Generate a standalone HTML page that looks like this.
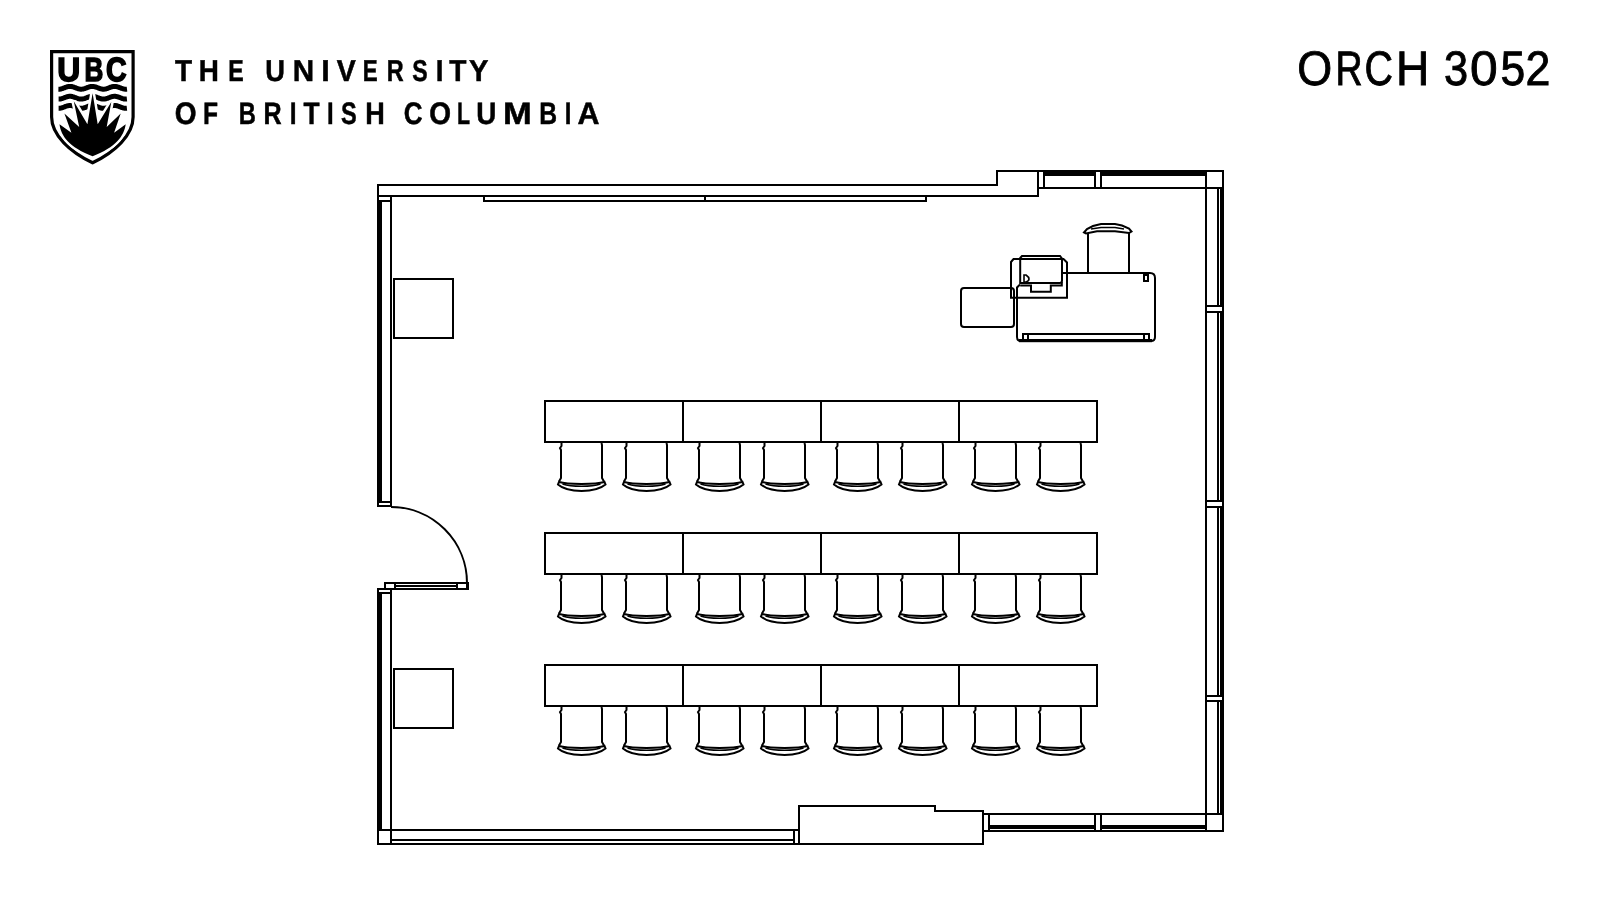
<!DOCTYPE html>
<html><head><meta charset="utf-8">
<style>
html,body{margin:0;padding:0;background:#fff;}
body{width:1600px;height:900px;position:relative;overflow:hidden;font-family:"Liberation Sans",sans-serif;}
#plan{position:absolute;left:0;top:0;}
</style></head><body>
<svg id="plan" width="1600" height="900" viewBox="0 0 1600 900" fill="#000" style="will-change:transform;font-family:'Liberation Sans',sans-serif" text-rendering="geometricPrecision">
<rect x="377" y="184" width="621" height="2"/>
<rect x="996" y="170" width="2" height="16"/>
<rect x="996" y="170" width="228" height="2"/>
<rect x="377" y="195" width="662" height="2"/>
<rect x="1037" y="170" width="2" height="27"/>
<rect x="483" y="195" width="2" height="7"/>
<rect x="483" y="200" width="444" height="2"/>
<rect x="925" y="195" width="2" height="7"/>
<rect x="704" y="195" width="2" height="7"/>
<rect x="1043" y="171" width="2" height="18"/>
<rect x="1043" y="170" width="163" height="6"/>
<rect x="1038" y="187" width="186" height="2"/>
<rect x="1096" y="172" width="4" height="15" fill="#fff"/>
<rect x="1094" y="170" width="2" height="19"/>
<rect x="1100" y="170" width="2" height="19"/>
<rect x="1205" y="170" width="2" height="662"/>
<rect x="1222" y="170" width="2" height="662"/>
<rect x="1217" y="189" width="2" height="624"/>
<rect x="1220" y="189" width="4" height="624"/>
<rect x="1207" y="305" width="15" height="8" fill="#fff"/>
<rect x="1205" y="305" width="17" height="2"/>
<rect x="1205" y="311" width="17" height="2"/>
<rect x="1207" y="500" width="15" height="8" fill="#fff"/>
<rect x="1205" y="500" width="17" height="2"/>
<rect x="1205" y="506" width="17" height="2"/>
<rect x="1207" y="695" width="15" height="7" fill="#fff"/>
<rect x="1205" y="695" width="17" height="2"/>
<rect x="1205" y="700" width="17" height="2"/>
<rect x="984" y="813" width="240" height="2"/>
<rect x="988" y="813" width="2" height="18"/>
<rect x="990" y="825" width="215" height="4"/>
<rect x="984" y="830" width="240" height="2"/>
<rect x="1096" y="815" width="4" height="15" fill="#fff"/>
<rect x="1094" y="813" width="2" height="18"/>
<rect x="1100" y="813" width="2" height="18"/>
<rect x="1207" y="815" width="15" height="15" fill="#fff"/>
<rect x="798" y="805" width="2" height="40"/>
<rect x="798" y="805" width="138" height="2"/>
<rect x="934" y="805" width="2" height="7"/>
<rect x="934" y="810" width="50" height="2"/>
<rect x="982" y="810" width="2" height="35"/>
<rect x="798" y="843" width="186" height="2"/>
<rect x="377" y="829" width="421" height="2"/>
<rect x="391" y="839" width="403" height="2"/>
<rect x="377" y="843" width="423" height="2"/>
<rect x="793" y="830" width="2" height="13"/>
<rect x="377" y="184" width="2" height="323"/>
<rect x="377" y="201" width="5" height="300"/>
<rect x="390" y="195" width="2" height="312"/>
<rect x="377" y="200" width="15" height="2"/>
<rect x="377" y="501" width="15" height="2"/>
<rect x="377" y="505" width="15" height="2"/>
<rect x="377" y="588" width="15" height="2"/>
<rect x="377" y="592" width="15" height="2"/>
<rect x="377" y="593" width="5" height="236"/>
<rect x="377" y="588" width="2" height="257"/>
<rect x="390" y="588" width="2" height="257"/>
<rect x="384" y="582" width="85" height="2"/>
<rect x="384" y="588" width="85" height="2"/>
<rect x="384" y="582" width="2" height="8"/>
<rect x="467" y="582" width="2" height="8"/>
<rect x="466" y="582" width="3" height="8"/>
<rect x="394" y="582" width="2" height="8"/>
<rect x="456" y="582" width="2" height="8"/>
<rect x="394" y="585" width="64" height="2"/>
<path d="M391,507 A76,76 0 0 1 467,583" fill="none" stroke="#000" stroke-width="2"/>
<rect x="393" y="278" width="61" height="2"/>
<rect x="393" y="337" width="61" height="2"/>
<rect x="393" y="278" width="2" height="61"/>
<rect x="452" y="278" width="2" height="61"/>
<rect x="393" y="668" width="61" height="2"/>
<rect x="393" y="727" width="61" height="2"/>
<rect x="393" y="668" width="2" height="61"/>
<rect x="452" y="668" width="2" height="61"/>
<rect x="544" y="400" width="554" height="2"/>
<rect x="544" y="441" width="554" height="2"/>
<rect x="544" y="400" width="2" height="43"/>
<rect x="1096" y="400" width="2" height="43"/>
<rect x="682" y="400" width="2" height="43"/>
<rect x="820" y="400" width="2" height="43"/>
<rect x="958" y="400" width="2" height="43"/>
<path d="M561.5,443 L561.5,446 L560.0,448 L561.0,450 L561.0,478 L559.0,481.5" fill="none" stroke="#000" stroke-width="2"/>
<path d="M601.5,443 L602.0,445 L602.0,478 L604.0,481.5" fill="none" stroke="#000" stroke-width="2"/>
<path d="M559.0,482 C567.5,484.5 595.5,484.5 604.5,482 L605.5,484.5 C595.5,493 567.5,493 558.0,484.5 Z" fill="none" stroke="#000" stroke-width="2"/>
<path d="M562.5,484 C571.5,487 591.5,487 600.5,484" fill="none" stroke="#000" stroke-width="1.6"/>
<path d="M626.5,443 L626.5,446 L625.0,448 L626.0,450 L626.0,478 L624.0,481.5" fill="none" stroke="#000" stroke-width="2"/>
<path d="M666.5,443 L667.0,445 L667.0,478 L669.0,481.5" fill="none" stroke="#000" stroke-width="2"/>
<path d="M624.0,482 C632.5,484.5 660.5,484.5 669.5,482 L670.5,484.5 C660.5,493 632.5,493 623.0,484.5 Z" fill="none" stroke="#000" stroke-width="2"/>
<path d="M627.5,484 C636.5,487 656.5,487 665.5,484" fill="none" stroke="#000" stroke-width="1.6"/>
<path d="M699.5,443 L699.5,446 L698.0,448 L699.0,450 L699.0,478 L697.0,481.5" fill="none" stroke="#000" stroke-width="2"/>
<path d="M739.5,443 L740.0,445 L740.0,478 L742.0,481.5" fill="none" stroke="#000" stroke-width="2"/>
<path d="M697.0,482 C705.5,484.5 733.5,484.5 742.5,482 L743.5,484.5 C733.5,493 705.5,493 696.0,484.5 Z" fill="none" stroke="#000" stroke-width="2"/>
<path d="M700.5,484 C709.5,487 729.5,487 738.5,484" fill="none" stroke="#000" stroke-width="1.6"/>
<path d="M764.5,443 L764.5,446 L763.0,448 L764.0,450 L764.0,478 L762.0,481.5" fill="none" stroke="#000" stroke-width="2"/>
<path d="M804.5,443 L805.0,445 L805.0,478 L807.0,481.5" fill="none" stroke="#000" stroke-width="2"/>
<path d="M762.0,482 C770.5,484.5 798.5,484.5 807.5,482 L808.5,484.5 C798.5,493 770.5,493 761.0,484.5 Z" fill="none" stroke="#000" stroke-width="2"/>
<path d="M765.5,484 C774.5,487 794.5,487 803.5,484" fill="none" stroke="#000" stroke-width="1.6"/>
<path d="M837.5,443 L837.5,446 L836.0,448 L837.0,450 L837.0,478 L835.0,481.5" fill="none" stroke="#000" stroke-width="2"/>
<path d="M877.5,443 L878.0,445 L878.0,478 L880.0,481.5" fill="none" stroke="#000" stroke-width="2"/>
<path d="M835.0,482 C843.5,484.5 871.5,484.5 880.5,482 L881.5,484.5 C871.5,493 843.5,493 834.0,484.5 Z" fill="none" stroke="#000" stroke-width="2"/>
<path d="M838.5,484 C847.5,487 867.5,487 876.5,484" fill="none" stroke="#000" stroke-width="1.6"/>
<path d="M902.5,443 L902.5,446 L901.0,448 L902.0,450 L902.0,478 L900.0,481.5" fill="none" stroke="#000" stroke-width="2"/>
<path d="M942.5,443 L943.0,445 L943.0,478 L945.0,481.5" fill="none" stroke="#000" stroke-width="2"/>
<path d="M900.0,482 C908.5,484.5 936.5,484.5 945.5,482 L946.5,484.5 C936.5,493 908.5,493 899.0,484.5 Z" fill="none" stroke="#000" stroke-width="2"/>
<path d="M903.5,484 C912.5,487 932.5,487 941.5,484" fill="none" stroke="#000" stroke-width="1.6"/>
<path d="M975.5,443 L975.5,446 L974.0,448 L975.0,450 L975.0,478 L973.0,481.5" fill="none" stroke="#000" stroke-width="2"/>
<path d="M1015.5,443 L1016.0,445 L1016.0,478 L1018.0,481.5" fill="none" stroke="#000" stroke-width="2"/>
<path d="M973.0,482 C981.5,484.5 1009.5,484.5 1018.5,482 L1019.5,484.5 C1009.5,493 981.5,493 972.0,484.5 Z" fill="none" stroke="#000" stroke-width="2"/>
<path d="M976.5,484 C985.5,487 1005.5,487 1014.5,484" fill="none" stroke="#000" stroke-width="1.6"/>
<path d="M1040.5,443 L1040.5,446 L1039.0,448 L1040.0,450 L1040.0,478 L1038.0,481.5" fill="none" stroke="#000" stroke-width="2"/>
<path d="M1080.5,443 L1081.0,445 L1081.0,478 L1083.0,481.5" fill="none" stroke="#000" stroke-width="2"/>
<path d="M1038.0,482 C1046.5,484.5 1074.5,484.5 1083.5,482 L1084.5,484.5 C1074.5,493 1046.5,493 1037.0,484.5 Z" fill="none" stroke="#000" stroke-width="2"/>
<path d="M1041.5,484 C1050.5,487 1070.5,487 1079.5,484" fill="none" stroke="#000" stroke-width="1.6"/>
<rect x="544" y="532" width="554" height="2"/>
<rect x="544" y="573" width="554" height="2"/>
<rect x="544" y="532" width="2" height="43"/>
<rect x="1096" y="532" width="2" height="43"/>
<rect x="682" y="532" width="2" height="43"/>
<rect x="820" y="532" width="2" height="43"/>
<rect x="958" y="532" width="2" height="43"/>
<path d="M561.5,575 L561.5,578 L560.0,580 L561.0,582 L561.0,610 L559.0,613.5" fill="none" stroke="#000" stroke-width="2"/>
<path d="M601.5,575 L602.0,577 L602.0,610 L604.0,613.5" fill="none" stroke="#000" stroke-width="2"/>
<path d="M559.0,614 C567.5,616.5 595.5,616.5 604.5,614 L605.5,616.5 C595.5,625 567.5,625 558.0,616.5 Z" fill="none" stroke="#000" stroke-width="2"/>
<path d="M562.5,616 C571.5,619 591.5,619 600.5,616" fill="none" stroke="#000" stroke-width="1.6"/>
<path d="M626.5,575 L626.5,578 L625.0,580 L626.0,582 L626.0,610 L624.0,613.5" fill="none" stroke="#000" stroke-width="2"/>
<path d="M666.5,575 L667.0,577 L667.0,610 L669.0,613.5" fill="none" stroke="#000" stroke-width="2"/>
<path d="M624.0,614 C632.5,616.5 660.5,616.5 669.5,614 L670.5,616.5 C660.5,625 632.5,625 623.0,616.5 Z" fill="none" stroke="#000" stroke-width="2"/>
<path d="M627.5,616 C636.5,619 656.5,619 665.5,616" fill="none" stroke="#000" stroke-width="1.6"/>
<path d="M699.5,575 L699.5,578 L698.0,580 L699.0,582 L699.0,610 L697.0,613.5" fill="none" stroke="#000" stroke-width="2"/>
<path d="M739.5,575 L740.0,577 L740.0,610 L742.0,613.5" fill="none" stroke="#000" stroke-width="2"/>
<path d="M697.0,614 C705.5,616.5 733.5,616.5 742.5,614 L743.5,616.5 C733.5,625 705.5,625 696.0,616.5 Z" fill="none" stroke="#000" stroke-width="2"/>
<path d="M700.5,616 C709.5,619 729.5,619 738.5,616" fill="none" stroke="#000" stroke-width="1.6"/>
<path d="M764.5,575 L764.5,578 L763.0,580 L764.0,582 L764.0,610 L762.0,613.5" fill="none" stroke="#000" stroke-width="2"/>
<path d="M804.5,575 L805.0,577 L805.0,610 L807.0,613.5" fill="none" stroke="#000" stroke-width="2"/>
<path d="M762.0,614 C770.5,616.5 798.5,616.5 807.5,614 L808.5,616.5 C798.5,625 770.5,625 761.0,616.5 Z" fill="none" stroke="#000" stroke-width="2"/>
<path d="M765.5,616 C774.5,619 794.5,619 803.5,616" fill="none" stroke="#000" stroke-width="1.6"/>
<path d="M837.5,575 L837.5,578 L836.0,580 L837.0,582 L837.0,610 L835.0,613.5" fill="none" stroke="#000" stroke-width="2"/>
<path d="M877.5,575 L878.0,577 L878.0,610 L880.0,613.5" fill="none" stroke="#000" stroke-width="2"/>
<path d="M835.0,614 C843.5,616.5 871.5,616.5 880.5,614 L881.5,616.5 C871.5,625 843.5,625 834.0,616.5 Z" fill="none" stroke="#000" stroke-width="2"/>
<path d="M838.5,616 C847.5,619 867.5,619 876.5,616" fill="none" stroke="#000" stroke-width="1.6"/>
<path d="M902.5,575 L902.5,578 L901.0,580 L902.0,582 L902.0,610 L900.0,613.5" fill="none" stroke="#000" stroke-width="2"/>
<path d="M942.5,575 L943.0,577 L943.0,610 L945.0,613.5" fill="none" stroke="#000" stroke-width="2"/>
<path d="M900.0,614 C908.5,616.5 936.5,616.5 945.5,614 L946.5,616.5 C936.5,625 908.5,625 899.0,616.5 Z" fill="none" stroke="#000" stroke-width="2"/>
<path d="M903.5,616 C912.5,619 932.5,619 941.5,616" fill="none" stroke="#000" stroke-width="1.6"/>
<path d="M975.5,575 L975.5,578 L974.0,580 L975.0,582 L975.0,610 L973.0,613.5" fill="none" stroke="#000" stroke-width="2"/>
<path d="M1015.5,575 L1016.0,577 L1016.0,610 L1018.0,613.5" fill="none" stroke="#000" stroke-width="2"/>
<path d="M973.0,614 C981.5,616.5 1009.5,616.5 1018.5,614 L1019.5,616.5 C1009.5,625 981.5,625 972.0,616.5 Z" fill="none" stroke="#000" stroke-width="2"/>
<path d="M976.5,616 C985.5,619 1005.5,619 1014.5,616" fill="none" stroke="#000" stroke-width="1.6"/>
<path d="M1040.5,575 L1040.5,578 L1039.0,580 L1040.0,582 L1040.0,610 L1038.0,613.5" fill="none" stroke="#000" stroke-width="2"/>
<path d="M1080.5,575 L1081.0,577 L1081.0,610 L1083.0,613.5" fill="none" stroke="#000" stroke-width="2"/>
<path d="M1038.0,614 C1046.5,616.5 1074.5,616.5 1083.5,614 L1084.5,616.5 C1074.5,625 1046.5,625 1037.0,616.5 Z" fill="none" stroke="#000" stroke-width="2"/>
<path d="M1041.5,616 C1050.5,619 1070.5,619 1079.5,616" fill="none" stroke="#000" stroke-width="1.6"/>
<rect x="544" y="664" width="554" height="2"/>
<rect x="544" y="705" width="554" height="2"/>
<rect x="544" y="664" width="2" height="43"/>
<rect x="1096" y="664" width="2" height="43"/>
<rect x="682" y="664" width="2" height="43"/>
<rect x="820" y="664" width="2" height="43"/>
<rect x="958" y="664" width="2" height="43"/>
<path d="M561.5,707 L561.5,710 L560.0,712 L561.0,714 L561.0,742 L559.0,745.5" fill="none" stroke="#000" stroke-width="2"/>
<path d="M601.5,707 L602.0,709 L602.0,742 L604.0,745.5" fill="none" stroke="#000" stroke-width="2"/>
<path d="M559.0,746 C567.5,748.5 595.5,748.5 604.5,746 L605.5,748.5 C595.5,757 567.5,757 558.0,748.5 Z" fill="none" stroke="#000" stroke-width="2"/>
<path d="M562.5,748 C571.5,751 591.5,751 600.5,748" fill="none" stroke="#000" stroke-width="1.6"/>
<path d="M626.5,707 L626.5,710 L625.0,712 L626.0,714 L626.0,742 L624.0,745.5" fill="none" stroke="#000" stroke-width="2"/>
<path d="M666.5,707 L667.0,709 L667.0,742 L669.0,745.5" fill="none" stroke="#000" stroke-width="2"/>
<path d="M624.0,746 C632.5,748.5 660.5,748.5 669.5,746 L670.5,748.5 C660.5,757 632.5,757 623.0,748.5 Z" fill="none" stroke="#000" stroke-width="2"/>
<path d="M627.5,748 C636.5,751 656.5,751 665.5,748" fill="none" stroke="#000" stroke-width="1.6"/>
<path d="M699.5,707 L699.5,710 L698.0,712 L699.0,714 L699.0,742 L697.0,745.5" fill="none" stroke="#000" stroke-width="2"/>
<path d="M739.5,707 L740.0,709 L740.0,742 L742.0,745.5" fill="none" stroke="#000" stroke-width="2"/>
<path d="M697.0,746 C705.5,748.5 733.5,748.5 742.5,746 L743.5,748.5 C733.5,757 705.5,757 696.0,748.5 Z" fill="none" stroke="#000" stroke-width="2"/>
<path d="M700.5,748 C709.5,751 729.5,751 738.5,748" fill="none" stroke="#000" stroke-width="1.6"/>
<path d="M764.5,707 L764.5,710 L763.0,712 L764.0,714 L764.0,742 L762.0,745.5" fill="none" stroke="#000" stroke-width="2"/>
<path d="M804.5,707 L805.0,709 L805.0,742 L807.0,745.5" fill="none" stroke="#000" stroke-width="2"/>
<path d="M762.0,746 C770.5,748.5 798.5,748.5 807.5,746 L808.5,748.5 C798.5,757 770.5,757 761.0,748.5 Z" fill="none" stroke="#000" stroke-width="2"/>
<path d="M765.5,748 C774.5,751 794.5,751 803.5,748" fill="none" stroke="#000" stroke-width="1.6"/>
<path d="M837.5,707 L837.5,710 L836.0,712 L837.0,714 L837.0,742 L835.0,745.5" fill="none" stroke="#000" stroke-width="2"/>
<path d="M877.5,707 L878.0,709 L878.0,742 L880.0,745.5" fill="none" stroke="#000" stroke-width="2"/>
<path d="M835.0,746 C843.5,748.5 871.5,748.5 880.5,746 L881.5,748.5 C871.5,757 843.5,757 834.0,748.5 Z" fill="none" stroke="#000" stroke-width="2"/>
<path d="M838.5,748 C847.5,751 867.5,751 876.5,748" fill="none" stroke="#000" stroke-width="1.6"/>
<path d="M902.5,707 L902.5,710 L901.0,712 L902.0,714 L902.0,742 L900.0,745.5" fill="none" stroke="#000" stroke-width="2"/>
<path d="M942.5,707 L943.0,709 L943.0,742 L945.0,745.5" fill="none" stroke="#000" stroke-width="2"/>
<path d="M900.0,746 C908.5,748.5 936.5,748.5 945.5,746 L946.5,748.5 C936.5,757 908.5,757 899.0,748.5 Z" fill="none" stroke="#000" stroke-width="2"/>
<path d="M903.5,748 C912.5,751 932.5,751 941.5,748" fill="none" stroke="#000" stroke-width="1.6"/>
<path d="M975.5,707 L975.5,710 L974.0,712 L975.0,714 L975.0,742 L973.0,745.5" fill="none" stroke="#000" stroke-width="2"/>
<path d="M1015.5,707 L1016.0,709 L1016.0,742 L1018.0,745.5" fill="none" stroke="#000" stroke-width="2"/>
<path d="M973.0,746 C981.5,748.5 1009.5,748.5 1018.5,746 L1019.5,748.5 C1009.5,757 981.5,757 972.0,748.5 Z" fill="none" stroke="#000" stroke-width="2"/>
<path d="M976.5,748 C985.5,751 1005.5,751 1014.5,748" fill="none" stroke="#000" stroke-width="1.6"/>
<path d="M1040.5,707 L1040.5,710 L1039.0,712 L1040.0,714 L1040.0,742 L1038.0,745.5" fill="none" stroke="#000" stroke-width="2"/>
<path d="M1080.5,707 L1081.0,709 L1081.0,742 L1083.0,745.5" fill="none" stroke="#000" stroke-width="2"/>
<path d="M1038.0,746 C1046.5,748.5 1074.5,748.5 1083.5,746 L1084.5,748.5 C1074.5,757 1046.5,757 1037.0,748.5 Z" fill="none" stroke="#000" stroke-width="2"/>
<path d="M1041.5,748 C1050.5,751 1070.5,751 1079.5,748" fill="none" stroke="#000" stroke-width="1.6"/>
<rect x="961" y="288" width="53" height="39" rx="3" fill="none" stroke="#000" stroke-width="2"/>
<path d="M1063,273 L1150,273 Q1155,273 1155,278 L1155,337 Q1155,341 1151,341 L1021,341 Q1017,341 1017,337 L1017,287.5 L1020,284.5" fill="none" stroke="#000" stroke-width="2"/>
<rect x="1019" y="339" width="133" height="3.2"/>
<rect x="1022" y="333" width="128" height="2"/>
<rect x="1022" y="333" width="7" height="2"/>
<rect x="1022" y="339" width="7" height="2"/>
<rect x="1022" y="333" width="2" height="8"/>
<rect x="1027" y="333" width="2" height="8"/>
<rect x="1143" y="333" width="7" height="2"/>
<rect x="1143" y="339" width="7" height="2"/>
<rect x="1143" y="333" width="2" height="8"/>
<rect x="1148" y="333" width="2" height="8"/>
<path d="M1024,275 L1026,275 Q1029,277 1029,279 Q1029,281 1026,282 L1024,282 Z" fill="none" stroke="#000" stroke-width="1.6"/>
<rect x="1143" y="274" width="6" height="2"/>
<rect x="1143" y="280" width="6" height="2"/>
<rect x="1143" y="274" width="2" height="8"/>
<rect x="1147" y="274" width="2" height="8"/>
<path d="M1011,262 L1013.5,259 L1063.5,259 L1067,262.5 L1067,297.7 L1011,297.7 Z" fill="none" stroke="#000" stroke-width="2"/>
<path d="M1020.2,283 L1020.2,258 L1022,256 L1060,256 L1062,258.5 L1062,280.5 Q1062,283 1059.5,283 Z" fill="none" stroke="#000" stroke-width="2"/>
<path d="M1020.2,285.6 L1031,285.6 L1031,291.7 L1050.8,291.7 L1050.8,285.6 L1061.8,285.6 L1061.8,282" fill="none" stroke="#000" stroke-width="2"/>
<rect x="1087" y="233" width="2" height="40"/>
<rect x="1128" y="233" width="2" height="40"/>
<path d="M1084,232.5 L1087,229 L1093,226 L1101,224 L1115,224 L1122,225.5 L1129,228.5 L1131.5,231.5 L1129,233 L1115,231.2 L1097,231.2 L1086,233.5 Z" fill="none" stroke="#000" stroke-width="2"/>
<path d="M1091,229 L1101,227.6 L1115,227.6 L1124,229" fill="none" stroke="#000" stroke-width="1.5"/>
<text transform="translate(175.03,80.69) scale(0.9240,1.0)" font-size="30.26" font-weight="bold" stroke="#000" stroke-width="0.5">T</text>
<text transform="translate(198.79,80.69) scale(0.9206,1.0)" font-size="30.26" font-weight="bold" stroke="#000" stroke-width="0.5">H</text>
<text transform="translate(228.24,80.69) scale(0.7669,1.0)" font-size="30.26" font-weight="bold" stroke="#000" stroke-width="0.5">E</text>
<text transform="translate(265.15,80.69) scale(0.9015,1.0)" font-size="30.26" font-weight="bold" stroke="#000" stroke-width="0.5">U</text>
<text transform="translate(292.69,80.69) scale(0.9801,1.0)" font-size="30.26" font-weight="bold" stroke="#000" stroke-width="0.5">N</text>
<text transform="translate(321.34,80.69) scale(1.0137,1.0)" font-size="30.26" font-weight="bold" stroke="#000" stroke-width="0.5">I</text>
<text transform="translate(336.64,80.69) scale(0.9409,1.0)" font-size="30.26" font-weight="bold" stroke="#000" stroke-width="0.5">V</text>
<text transform="translate(362.79,80.69) scale(0.7391,1.0)" font-size="30.26" font-weight="bold" stroke="#000" stroke-width="0.5">E</text>
<text transform="translate(386.63,80.69) scale(0.7744,1.0)" font-size="30.26" font-weight="bold" stroke="#000" stroke-width="0.5">R</text>
<text transform="translate(412.23,80.69) scale(0.7624,1.0)" font-size="30.26" font-weight="bold" stroke="#000" stroke-width="0.5">S</text>
<text transform="translate(435.79,80.69) scale(0.9181,1.0)" font-size="30.26" font-weight="bold" stroke="#000" stroke-width="0.5">I</text>
<text transform="translate(449.23,80.69) scale(0.9293,1.0)" font-size="30.26" font-weight="bold" stroke="#000" stroke-width="0.5">T</text>
<text transform="translate(468.99,80.69) scale(0.9605,1.0)" font-size="30.26" font-weight="bold" stroke="#000" stroke-width="0.5">Y</text>
<text transform="translate(174.85,124) scale(0.9025,1.0)" font-size="31.06" font-weight="bold" stroke="#000" stroke-width="0.5">O</text>
<text transform="translate(203.06,124) scale(0.7932,1.0)" font-size="31.06" font-weight="bold" stroke="#000" stroke-width="0.5">F</text>
<text transform="translate(238.81,124) scale(0.7633,1.0)" font-size="31.06" font-weight="bold" stroke="#000" stroke-width="0.5">B</text>
<text transform="translate(263.53,124) scale(0.8089,1.0)" font-size="31.06" font-weight="bold" stroke="#000" stroke-width="0.5">R</text>
<text transform="translate(289.67,124) scale(0.7846,1.0)" font-size="31.06" font-weight="bold" stroke="#000" stroke-width="0.5">I</text>
<text transform="translate(303.61,124) scale(0.8493,1.0)" font-size="31.06" font-weight="bold" stroke="#000" stroke-width="0.5">T</text>
<text transform="translate(326.90,124) scale(0.7659,1.0)" font-size="31.06" font-weight="bold" stroke="#000" stroke-width="0.5">I</text>
<text transform="translate(341.12,124) scale(0.7583,1.0)" font-size="31.06" font-weight="bold" stroke="#000" stroke-width="0.5">S</text>
<text transform="translate(365.23,124) scale(0.8711,1.0)" font-size="31.06" font-weight="bold" stroke="#000" stroke-width="0.5">H</text>
<text transform="translate(403.80,124) scale(0.8377,1.0)" font-size="31.06" font-weight="bold" stroke="#000" stroke-width="0.5">C</text>
<text transform="translate(429.25,124) scale(0.9025,1.0)" font-size="31.06" font-weight="bold" stroke="#000" stroke-width="0.5">O</text>
<text transform="translate(456.94,124) scale(0.6882,1.0)" font-size="31.06" font-weight="bold" stroke="#000" stroke-width="0.5">L</text>
<text transform="translate(476.22,124) scale(0.8989,1.0)" font-size="31.06" font-weight="bold" stroke="#000" stroke-width="0.5">U</text>
<text transform="translate(503.02,124) scale(1.1128,1.0)" font-size="31.06" font-weight="bold" stroke="#000" stroke-width="0.5">M</text>
<text transform="translate(539.26,124) scale(0.7935,1.0)" font-size="31.06" font-weight="bold" stroke="#000" stroke-width="0.5">B</text>
<text transform="translate(564.80,124) scale(0.7659,1.0)" font-size="31.06" font-weight="bold" stroke="#000" stroke-width="0.5">I</text>
<text transform="translate(577.47,124) scale(0.9792,1.0)" font-size="31.06" font-weight="bold" stroke="#000" stroke-width="0.5">A</text>
<text transform="translate(1297.21,85.44) scale(0.9263,1.0)" font-size="48.47" stroke="#000" stroke-width="0.9">O</text>
<text transform="translate(1335.42,85.44) scale(0.7721,1.0)" font-size="48.47" stroke="#000" stroke-width="0.9">R</text>
<text transform="translate(1364.52,85.44) scale(0.8137,1.0)" font-size="48.47" stroke="#000" stroke-width="0.9">C</text>
<text transform="translate(1396.12,85.44) scale(0.9516,1.0)" font-size="48.47" stroke="#000" stroke-width="0.9">H</text>
<text transform="translate(1444.05,85.44) scale(0.8943,1.0)" font-size="48.47" stroke="#000" stroke-width="0.9">3</text>
<text transform="translate(1470.11,85.44) scale(1.0265,1.0)" font-size="48.47" stroke="#000" stroke-width="0.9">0</text>
<text transform="translate(1500.43,85.44) scale(0.9148,1.0)" font-size="48.47" stroke="#000" stroke-width="0.9">5</text>
<text transform="translate(1525.52,85.44) scale(0.9229,1.0)" font-size="48.47" stroke="#000" stroke-width="0.9">2</text>
<path d="M51.6,51.6 H133.1 V117 C133.1,135 115,152 92.6,162.8 C70,152 51.6,135 51.6,117 Z" fill="none" stroke="#000" stroke-width="3.2"/>
<text transform="translate(57.27,81.2) scale(0.9495,1.0)" font-size="33.5" font-weight="bold" stroke="#000" stroke-width="1.6">U</text>
<text transform="translate(84.40,81.2) scale(0.7765,1.0)" font-size="33.5" font-weight="bold" stroke="#000" stroke-width="1.6">B</text>
<text transform="translate(105.99,81.2) scale(0.8503,1.0)" font-size="33.5" font-weight="bold" stroke="#000" stroke-width="1.6">C</text>
<polyline points="58.40,89.19 58.90,89.20 59.39,89.18 59.89,89.14 60.39,89.07 60.89,88.98 61.38,88.86 61.88,88.72 62.38,88.56 62.87,88.39 63.37,88.21 63.87,88.02 64.37,87.82 64.86,87.63 65.36,87.44 65.86,87.25 66.35,87.08 66.85,86.92 67.35,86.77 67.84,86.65 68.34,86.55 68.84,86.47 69.34,86.42 69.83,86.40 70.33,86.41 70.83,86.44 71.32,86.50 71.82,86.58 72.32,86.69 72.82,86.82 73.31,86.97 73.81,87.13 74.31,87.31 74.80,87.50 75.30,87.69 75.80,87.89 76.30,88.08 76.79,88.27 77.29,88.45 77.79,88.62 78.28,88.77 78.78,88.90 79.28,89.01 79.78,89.10 80.27,89.16 80.77,89.19 81.27,89.20 81.76,89.18 82.26,89.13 82.76,89.06 83.26,88.96 83.75,88.84 84.25,88.70 84.75,88.54 85.24,88.37 85.74,88.18 86.24,87.99 86.73,87.80 87.23,87.60 87.73,87.41 88.23,87.23 88.72,87.05 89.22,86.89 89.72,86.75 90.21,86.63 90.71,86.54 91.21,86.47 91.71,86.42 92.20,86.40 92.70,86.41 93.20,86.44 93.69,86.51 94.19,86.59 94.69,86.71 95.19,86.84 95.68,86.99 96.18,87.16 96.68,87.34 97.17,87.53 97.67,87.72 98.17,87.92 98.67,88.11 99.16,88.30 99.66,88.47 100.16,88.64 100.65,88.79 101.15,88.92 101.65,89.02 102.14,89.11 102.64,89.16 103.14,89.19 103.64,89.20 104.13,89.17 104.63,89.12 105.13,89.05 105.62,88.95 106.12,88.82 106.62,88.68 107.12,88.52 107.61,88.34 108.11,88.16 108.61,87.96 109.10,87.77 109.60,87.57 110.10,87.38 110.60,87.20 111.09,87.03 111.59,86.87 112.09,86.74 112.58,86.62 113.08,86.53 113.58,86.46 114.08,86.42 114.57,86.40 115.07,86.41 115.57,86.45 116.06,86.52 116.56,86.61 117.06,86.72 117.56,86.86 118.05,87.01 118.55,87.18 119.05,87.36 119.54,87.55 120.04,87.75 120.54,87.94 121.03,88.14 121.53,88.32 122.03,88.50 122.53,88.66 123.02,88.81 123.52,88.93 124.02,89.04 124.51,89.12 125.01,89.17 125.51,89.20 126.01,89.20 126.50,89.17 127.00,89.11" fill="none" stroke="#000" stroke-width="5"/>
<polyline points="58.60,99.10 59.10,99.10 59.60,99.07 60.10,99.01 60.59,98.93 61.09,98.83 61.59,98.70 62.09,98.56 62.59,98.39 63.09,98.22 63.59,98.03 64.08,97.83 64.58,97.64 65.08,97.44 65.58,97.25 66.08,97.07 66.58,96.90 67.08,96.75 67.57,96.61 68.07,96.50 68.57,96.41 69.07,96.35 69.57,96.31 70.07,96.30 70.56,96.32 71.06,96.36 71.56,96.43 72.06,96.53 72.56,96.65 73.06,96.79 73.56,96.95 74.05,97.12 74.55,97.30 75.05,97.49 75.55,97.69 76.05,97.89 76.55,98.08 77.05,98.26 77.54,98.44 78.04,98.60 78.54,98.74 79.04,98.86 79.54,98.96 80.04,99.03 80.54,99.08 81.03,99.10 81.53,99.09 82.03,99.06 82.53,99.00 83.03,98.91 83.53,98.80 84.03,98.67 84.52,98.51 85.02,98.35 85.52,98.17 86.02,97.98 86.52,97.78 87.02,97.59 87.52,97.39 88.01,97.20 88.51,97.02 89.01,96.86 89.51,96.71 90.01,96.58 90.51,96.47 91.01,96.39 91.50,96.34 92.00,96.30 92.50,96.30 93.00,96.33 93.50,96.38 94.00,96.46 94.49,96.56 94.99,96.68 95.49,96.83 95.99,96.99 96.49,97.17 96.99,97.35 97.49,97.55 97.98,97.74 98.48,97.94 98.98,98.13 99.48,98.31 99.98,98.48 100.48,98.64 100.98,98.77 101.47,98.89 101.97,98.98 102.47,99.05 102.97,99.09 103.47,99.10 103.97,99.09 104.47,99.04 104.96,98.97 105.46,98.88 105.96,98.76 106.46,98.63 106.96,98.47 107.46,98.30 107.96,98.12 108.45,97.92 108.95,97.73 109.45,97.53 109.95,97.34 110.45,97.15 110.95,96.98 111.45,96.82 111.94,96.67 112.44,96.55 112.94,96.45 113.44,96.37 113.94,96.32 114.44,96.30 114.94,96.31 115.43,96.34 115.93,96.40 116.43,96.48 116.93,96.59 117.43,96.72 117.93,96.87 118.42,97.04 118.92,97.22 119.42,97.41 119.92,97.60 120.42,97.80 120.92,97.99 121.42,98.18 121.91,98.36 122.41,98.53 122.91,98.68 123.41,98.81 123.91,98.92 124.41,99.00 124.91,99.06 125.40,99.09 125.90,99.10 126.40,99.08 126.90,99.03" fill="none" stroke="#000" stroke-width="5"/>
<polyline points="58.60,108.30 59.10,108.30 59.60,108.27 60.10,108.21 60.59,108.13 61.09,108.03 61.59,107.90 62.09,107.76 62.59,107.59 63.09,107.42 63.59,107.23 64.08,107.03 64.58,106.84 65.08,106.64 65.58,106.45 66.08,106.27 66.58,106.10 67.08,105.95 67.57,105.81 68.07,105.70 68.57,105.61 69.07,105.55 69.57,105.51 70.07,105.50 70.56,105.52 71.06,105.56 71.56,105.63 72.06,105.73 72.56,105.85 73.06,105.99 73.56,106.15 74.05,106.32 74.55,106.50 75.05,106.69 75.55,106.89 76.05,107.09 76.55,107.28 77.05,107.46 77.54,107.64 78.04,107.80 78.54,107.94 79.04,108.06 79.54,108.16 80.04,108.23 80.54,108.28 81.03,108.30 81.53,108.29 82.03,108.26 82.53,108.20 83.03,108.11 83.53,108.00 84.03,107.87 84.52,107.71 85.02,107.55 85.52,107.37 86.02,107.18 86.52,106.98 87.02,106.79 87.52,106.59 88.01,106.40 88.51,106.22 89.01,106.06 89.51,105.91 90.01,105.78 90.51,105.67 91.01,105.59 91.50,105.54 92.00,105.50 92.50,105.50 93.00,105.53 93.50,105.58 94.00,105.66 94.49,105.76 94.99,105.88 95.49,106.03 95.99,106.19 96.49,106.37 96.99,106.55 97.49,106.75 97.98,106.94 98.48,107.14 98.98,107.33 99.48,107.51 99.98,107.68 100.48,107.84 100.98,107.97 101.47,108.09 101.97,108.18 102.47,108.25 102.97,108.29 103.47,108.30 103.97,108.29 104.47,108.24 104.96,108.17 105.46,108.08 105.96,107.96 106.46,107.83 106.96,107.67 107.46,107.50 107.96,107.32 108.45,107.12 108.95,106.93 109.45,106.73 109.95,106.54 110.45,106.35 110.95,106.18 111.45,106.02 111.94,105.87 112.44,105.75 112.94,105.65 113.44,105.57 113.94,105.52 114.44,105.50 114.94,105.51 115.43,105.54 115.93,105.60 116.43,105.68 116.93,105.79 117.43,105.92 117.93,106.07 118.42,106.24 118.92,106.42 119.42,106.61 119.92,106.80 120.42,107.00 120.92,107.19 121.42,107.38 121.91,107.56 122.41,107.73 122.91,107.88 123.41,108.01 123.91,108.12 124.41,108.20 124.91,108.26 125.40,108.29 125.90,108.30 126.40,108.28 126.90,108.23" fill="none" stroke="#000" stroke-width="5"/>
<path d="M92.6,93.3 L97.7,124.2 L111.3,102 L106.7,127 L120.7,113.5 L114.1,132.8 L125.7,124.2 C124,136 116,147 92.6,156.3 C69,147 61,136 59.5,124.2 L71.4,132.8 L64.4,113.5 L79.2,127 L73.8,101.2 L87.4,124.2 Z" fill="#000" stroke="#fff" stroke-width="5" stroke-linejoin="miter" paint-order="stroke"/>
</svg>
</body></html>
